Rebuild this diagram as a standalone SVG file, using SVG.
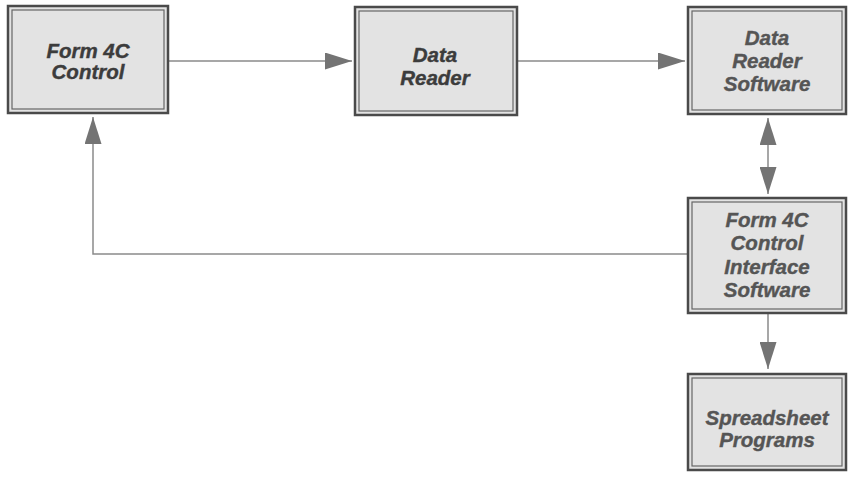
<svg xmlns="http://www.w3.org/2000/svg" width="848" height="477" viewBox="0 0 848 477">
<style>
.outer{fill:#e3e3e3;stroke:#4a4a4a;stroke-width:2.5}
.inner{fill:none;stroke:#666;stroke-width:1.2}
.lbl{font-family:"Liberation Sans",Arial,sans-serif;font-weight:bold;font-style:italic;font-size:20.5px;fill:#3c3c3c;stroke:#3c3c3c;stroke-width:0.4;text-anchor:middle}
.lbl2{fill:#555;stroke:#555}
.conn{fill:none;stroke:#8a8a8a;stroke-width:1.5}
</style>
<defs>
<marker id="ah" markerUnits="userSpaceOnUse" markerWidth="28" markerHeight="17" refX="27" refY="8.5" orient="auto-start-reverse">
<path d="M0,0 L27,8.5 L0,17 Z" fill="#747474"/>
</marker>
</defs>
<rect width="848" height="477" fill="#fff"/>
<g id="connectors">
<line id="e1" class="conn" x1="168" y1="61" x2="352" y2="61" marker-end="url(#ah)"/>
<line id="e2" class="conn" x1="517" y1="61" x2="685" y2="61" marker-end="url(#ah)"/>
<polyline id="e3" class="conn" points="688,254 93,254 93,117" marker-end="url(#ah)"/>
<line id="e4" class="conn" x1="768" y1="118" x2="768" y2="194" marker-start="url(#ah)" marker-end="url(#ah)"/>
<line id="e5" class="conn" x1="768" y1="313" x2="768" y2="369" marker-end="url(#ah)"/>
</g>
<g id="n1">
<rect class="outer" x="8" y="6" width="160" height="107"/>
<rect class="inner" x="12" y="10" width="152" height="99"/>
<text class="lbl" x="88" y="58">Form 4C</text>
<text class="lbl" x="88" y="79">Control</text>
</g>
<g id="n2">
<rect class="outer" x="355" y="7" width="162" height="108"/>
<rect class="inner" x="359" y="11" width="154" height="100"/>
<text class="lbl" x="435" y="62">Data</text>
<text class="lbl" x="435" y="85">Reader</text>
</g>
<g id="n3">
<rect class="outer" x="688" y="7" width="158" height="107"/>
<rect class="inner" x="692" y="11" width="150" height="99"/>
<text class="lbl lbl2" x="767" y="45">Data</text>
<text class="lbl lbl2" x="767" y="68">Reader</text>
<text class="lbl lbl2" x="767" y="91">Software</text>
</g>
<g id="n4">
<rect class="outer" x="688" y="198" width="158" height="115"/>
<rect class="inner" x="692" y="202" width="150" height="107"/>
<text class="lbl lbl2" x="767" y="227">Form 4C</text>
<text class="lbl lbl2" x="767" y="250">Control</text>
<text class="lbl lbl2" x="767" y="274">Interface</text>
<text class="lbl lbl2" x="767" y="297">Software</text>
</g>
<g id="n5">
<rect class="outer" x="688" y="374" width="158" height="96"/>
<rect class="inner" x="692" y="378" width="150" height="88"/>
<text class="lbl lbl2" x="767" y="425">Spreadsheet</text>
<text class="lbl lbl2" x="767" y="447">Programs</text>
</g>
</svg>
